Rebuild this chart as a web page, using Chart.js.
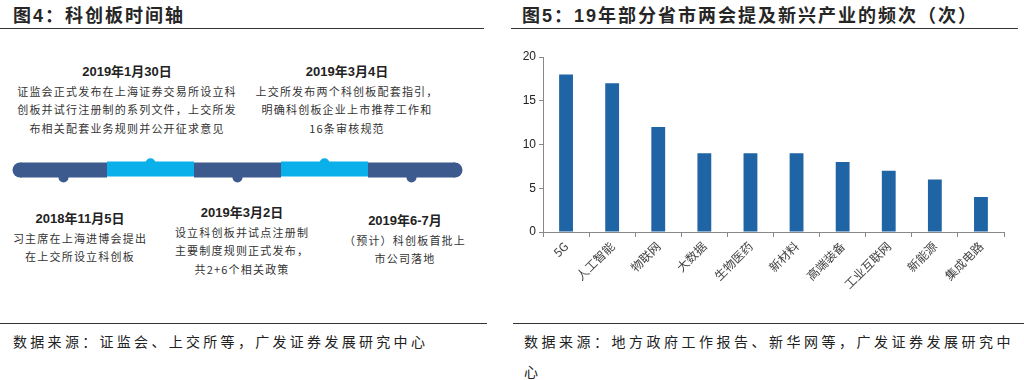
<!DOCTYPE html>
<html>
<head>
<meta charset="utf-8">
<script src="https://cdn.jsdelivr.net/npm/chart.js"></script>
<style>
  html, body { margin: 0; padding: 0; background: #fff; }
  body { width: 1024px; height: 380px; position: relative; overflow: hidden;
         font-family: "Liberation Sans", Arial, "Noto Sans CJK SC", sans-serif; color: #222; }
  .title { position: absolute; top: 1px; font-size: 18px; font-weight: bold; letter-spacing: 2px; color: #262626;
           font-family: "Liberation Sans", Arial, "Noto Sans CJK SC", sans-serif; }
  .rule { position: absolute; height: 0; border-top: 1.5px solid #333; }
  .source { position: absolute; font-size: 14px; letter-spacing: 3.3px; color: #222; line-height: 30px;
            font-family: "Noto Sans CJK SC", sans-serif; white-space: nowrap; }
  .note { position: absolute; text-align: center; line-height: 18.5px; }
  .note .date { font-size: 13px; font-weight: bold; color: #222; }
  .note .desc { font-size: 11px; letter-spacing: 1.2px; color: #333; font-family: "Noto Sans CJK SC", sans-serif; }
  canvas { position: absolute; }
</style>
</head>
<body>

<div class="title" style="left:13px">图4：科创板时间轴</div>
<div class="rule" style="left:0; top:28px; width:484px"></div>
<div class="title" style="left:522px">图5：19年部分省市两会提及新兴产业的频次（次）</div>
<div class="rule" style="left:511px; top:28px; width:507px"></div>

<canvas id="timeline" width="480" height="60" style="left:0; top:140px"></canvas>
<div id="notes"></div>

<canvas id="bars" width="505" height="270" style="left:512px; top:40px"></canvas>

<div class="rule" style="left:0; top:323px; width:487px"></div>
<div class="rule" style="left:513px; top:323px; width:511px"></div>
<div class="source" style="left:13px; top:326px">数据来源：证监会、上交所等，广发证券发展研究中心</div>
<div class="source" style="left:524px; top:326px; letter-spacing:3.5px">数据来源：地方政府工作报告、新华网等，广发证券发展研究中<br>心</div>

<script>
// ---- figure 4: timeline events ----
const eventDates = ['2018年11月5日', '2019年1月30日', '2019年3月2日', '2019年3月4日', '2019年6-7月'];
const eventLines = [
  ['习主席在上海进博会提出', '在上交所设立科创板'],
  ['证监会正式发布在上海证券交易所设立科', '创板并试行注册制的系列文件，上交所发', '布相关配套业务规则并公开征求意见'],
  ['设立科创板并试点注册制', '主要制度规则正式发布，', '共2+6个相关政策'],
  ['上交所发布两个科创板配套指引，', '明确科创板企业上市推荐工作和', '16条审核规范'],
  ['（预计）科创板首批上', '市公司落地']
];
const eventSide = ['below', 'above', 'below', 'above', 'below'];
const eventPos = [0.5, 1.5, 2.5, 3.5, 4.5];   // place on the timeline axis

// ---- figure 5: mentions per industry ----
const industries = ['5G', '人工智能', '物联网', '大数据', '生物医药', '新材料', '高端装备', '工业互联网', '新能源', '集成电路'];
const mentions = [18, 17, 12, 9, 9, 9, 8, 7, 6, 4];
const yTicks = [0, 5, 10, 15, 20];

const DARK = '#3D5A8E';
const LIGHT = '#0BAFE9';
const BAR = '#1F64A4';

// where each note block sits (left, top, width) in px
const noteBoxes = [
  [10, 210, 140],
  [7, 63, 240],
  [162, 204, 160],
  [247, 63, 200],
  [335, 212, 140]
];

const notes = document.getElementById('notes');
eventDates.forEach((d, i) => {
  const [l, t, w] = noteBoxes[i];
  const el = document.createElement('div');
  el.className = 'note';
  el.style.left = l + 'px';
  el.style.top = t + 'px';
  el.style.width = w + 'px';
  el.innerHTML = '<div class="date">' + d + '</div>' +
    eventLines[i].map(s => '<div class="desc">' + s + '</div>').join('');
  notes.appendChild(el);
});

// timeline segments: one line per event, colour by side
const segData = eventPos.map((p, i) => {
  const y = eventSide[i] === 'above' ? 0.05 : 0;
  const c = eventSide[i] === 'above' ? LIGHT : DARK;
  return {
    data: [{ x: p - 0.5, y: y }, { x: p + 0.5, y: y }],
    borderColor: c,
    borderWidth: 15,
    borderCapStyle: 'butt',
    pointRadius: 0,
    clip: false
  };
});

new Chart(document.getElementById('timeline'), {
  type: 'line',
  data: {
    datasets: [
      ...segData,
      {
        // rounded ends
        data: [{ x: eventPos[0] - 0.5, y: 0 }, { x: eventPos[eventPos.length - 1] + 0.5, y: 0 }],
        showLine: false,
        pointRadius: 7.5,
        pointBorderWidth: 0,
        pointBackgroundColor: DARK,
        clip: false
      },
      {
        // little bumps marking each event
        data: eventPos.map((p, i) => ({ x: p, y: eventSide[i] === 'above' ? 0.3 : -0.33 })),
        showLine: false,
        pointRadius: 5,
        pointBorderWidth: 0,
        pointBackgroundColor: eventSide.map(s => s === 'above' ? LIGHT : DARK),
        clip: false
      }
    ]
  },
  options: {
    responsive: false,
    animation: false,
    events: [],
    layout: { padding: { left: 20, right: 25, top: 0, bottom: 0 } },
    plugins: { legend: { display: false }, tooltip: { enabled: false } },
    scales: {
      x: { type: 'linear', display: false, min: 0, max: eventPos.length },
      y: { type: 'linear', display: false, min: -1, max: 1 }
    }
  }
});

new Chart(document.getElementById('bars'), {
  type: 'bar',
  data: {
    labels: industries,
    datasets: [{
      data: mentions,
      backgroundColor: BAR,
      barPercentage: 0.3,
      categoryPercentage: 1
    }]
  },
  options: {
    responsive: false,
    animation: false,
    events: [],
    layout: { padding: { top: 17, right: 13, left: 0, bottom: 0 } },
    plugins: { legend: { display: false }, tooltip: { enabled: false } },
    scales: {
      x: {
        grid: { display: true, drawOnChartArea: false, drawTicks: true, tickLength: 5, color: '#888', offset: true },
        border: { color: '#888' },
        ticks: {
          autoSkip: false, maxRotation: 45, minRotation: 45, padding: 2, color: '#444',
          font: { size: 12, family: '"Noto Sans CJK SC", "Liberation Sans", sans-serif' }
        },
        afterFit: s => { s.height = 78; }
      },
      y: {
        min: yTicks[0],
        max: yTicks[yTicks.length - 1],
        afterBuildTicks: s => { s.ticks = yTicks.map(v => ({ value: v })); },
        grid: { drawOnChartArea: false, tickLength: 4, color: '#888' },
        border: { color: '#888' },
        ticks: { padding: 3, color: '#222', font: { size: 12, family: '"Liberation Sans", Arial, sans-serif' } },
        afterFit: s => { s.width = 31; }
      }
    }
  }
});
</script>
</body>
</html>
